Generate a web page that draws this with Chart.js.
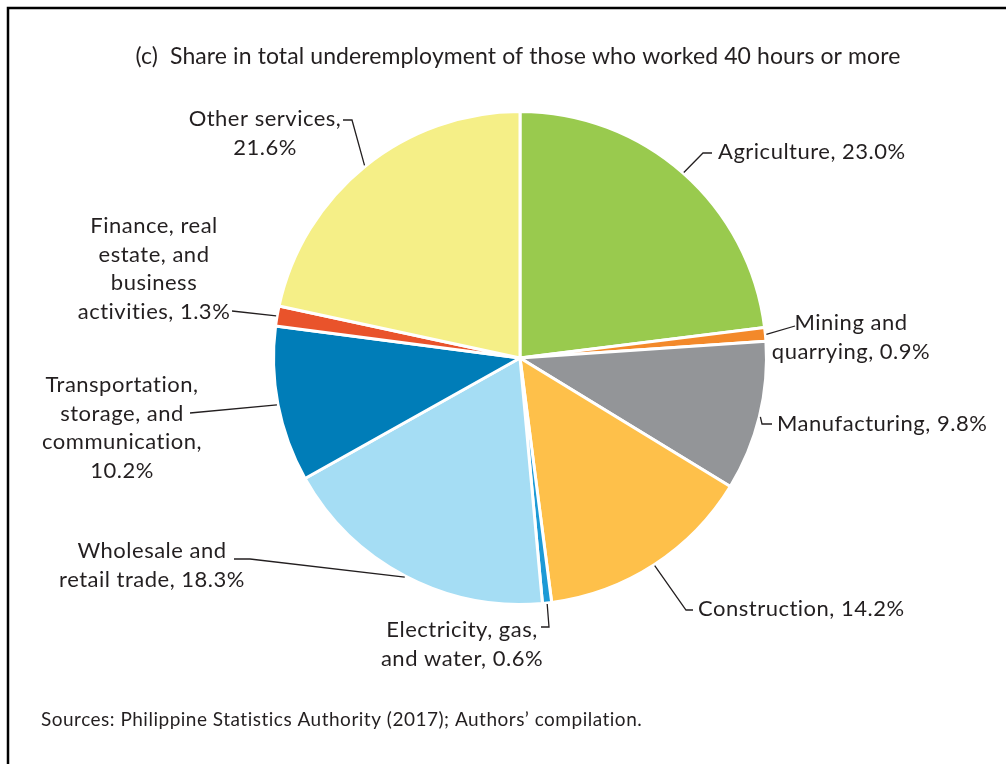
<!DOCTYPE html>
<html>
<head>
<meta charset="utf-8">
<title>Share in total underemployment</title>
<script src="https://cdn.jsdelivr.net/npm/chart.js@4.4.1/dist/chart.umd.min.js"></script>
<style>
  html, body { margin: 0; padding: 0; background: #fff; }
  #wrap { position: relative; width: 1006px; height: 764px; }
</style>
</head>
<body>
<div id="wrap"><canvas id="pieChart" width="1006" height="764"></canvas></div>
<script>
// Data
const sectors = [
  'Agriculture', 'Mining and quarrying', 'Manufacturing', 'Construction',
  'Electricity, gas, and water', 'Wholesale and retail trade',
  'Transportation, storage, and communication',
  'Finance, real estate, and business activities', 'Other services'
];
const shares = [23.0, 0.9, 9.8, 14.2, 0.6, 18.3, 10.2, 1.3, 21.6];
const labelLines = [
  ['Agriculture, 23.0%'],
  ['Mining and', 'quarrying, 0.9%'],
  ['Manufacturing, 9.8%'],
  ['Construction, 14.2%'],
  ['Electricity, gas,', 'and water, 0.6%'],
  ['Wholesale and', 'retail trade, 18.3%'],
  ['Transportation,', 'storage, and', 'communication,', '10.2%'],
  ['Finance, real', 'estate, and', 'business', 'activities, 1.3%'],
  ['Other services,', '21.6%']
];
const sliceColors = ['#99CA4E', '#F3892A', '#939598', '#FEC04A', '#1D9AD6', '#A5DDF4', '#007DB8', '#E9532B', '#F5EF87'];

// Label layout (page pixels): text anchor, alignment, and leader elbow points
const labelLayout = [
  { x: 718, y: 152, align: 'left',   leader: [[703, 153], [712, 153]] },
  { x: 851, y: 323, align: 'center', leader: [[795, 326]] },
  { x: 777, y: 424, align: 'left',   leader: [[762, 424], [772, 424]] },
  { x: 698, y: 609, align: 'left',   leader: [[686, 610], [693, 610]] },
  { x: 462, y: 630, align: 'center', leader: [[549, 627], [541, 627]] },
  { x: 152, y: 551, align: 'center', leader: [[250, 559], [234, 559]] },
  { x: 122, y: 385, align: 'center', leader: [[190, 413]] },
  { x: 154, y: 226, align: 'center', leader: [[232, 311]] },
  { x: 265, y: 119, align: 'center', leader: [[352, 120], [343, 120]] }
];
const lineHeight = 28.7;
const textColor = '#231F20';
const labelFont = '22px Lato, "Noto Sans", sans-serif';

// Frame, title, source note and slice labels
const decorPlugin = {
  id: 'decor',
  afterDraw(chart) {
    const ctx = chart.ctx;
    ctx.save();

    // frame (top and left edges)
    ctx.strokeStyle = '#000';
    ctx.lineWidth = 2.5;
    ctx.beginPath();
    ctx.moveTo(8, 764);
    ctx.lineTo(8, 8);
    ctx.lineTo(1006, 8);
    ctx.stroke();

    ctx.fillStyle = textColor;
    ctx.textBaseline = 'middle';

    // title
    ctx.font = '23px Lato, "Noto Sans", sans-serif';
    ctx.letterSpacing = '0.1px';
    ctx.textAlign = 'center';
    ctx.fillText('(c)  Share in total underemployment of those who worked 40 hours or more', 518, 57);

    // source
    ctx.font = '19px Lato, "Noto Sans", sans-serif';
    ctx.letterSpacing = '0.5px';
    ctx.textAlign = 'left';
    ctx.fillText('Sources: Philippine Statistics Authority (2017); Authors\u2019 compilation.', 41, 720);

    // leaders and labels
    const arcs = chart.getDatasetMeta(0).data;
    ctx.strokeStyle = textColor;
    ctx.lineWidth = 1.3;
    ctx.font = labelFont;
    ctx.letterSpacing = '0.5px';
    arcs.forEach((arc, i) => {
      const mid = (arc.startAngle + arc.endAngle) / 2;
      const r = arc.outerRadius + 1;
      const sx = arc.x + Math.cos(mid) * r;
      const sy = arc.y + Math.sin(mid) * r;
      const lay = labelLayout[i];
      ctx.beginPath();
      ctx.moveTo(sx, sy);
      lay.leader.forEach(p => ctx.lineTo(p[0], p[1]));
      ctx.stroke();

      ctx.textAlign = lay.align;
      labelLines[i].forEach((line, j) => {
        ctx.fillText(line, lay.x, lay.y + j * lineHeight);
      });
    });

    ctx.restore();
  }
};

const ctx = document.getElementById('pieChart').getContext('2d');
const pieChart = new Chart(ctx, {
  type: 'pie',
  data: {
    labels: sectors,
    datasets: [{
      data: shares,
      backgroundColor: sliceColors,
      borderColor: '#ffffff',
      borderWidth: 3
    }]
  },
  options: {
    responsive: false,
    animation: false,
    layout: {
      padding: { left: 272, right: 238, top: 110, bottom: 158 }
    },
    plugins: {
      legend: { display: false },
      tooltip: { enabled: false },
      title: { display: false }
    }
  },
  plugins: [decorPlugin]
});
</script>
</body>
</html>
